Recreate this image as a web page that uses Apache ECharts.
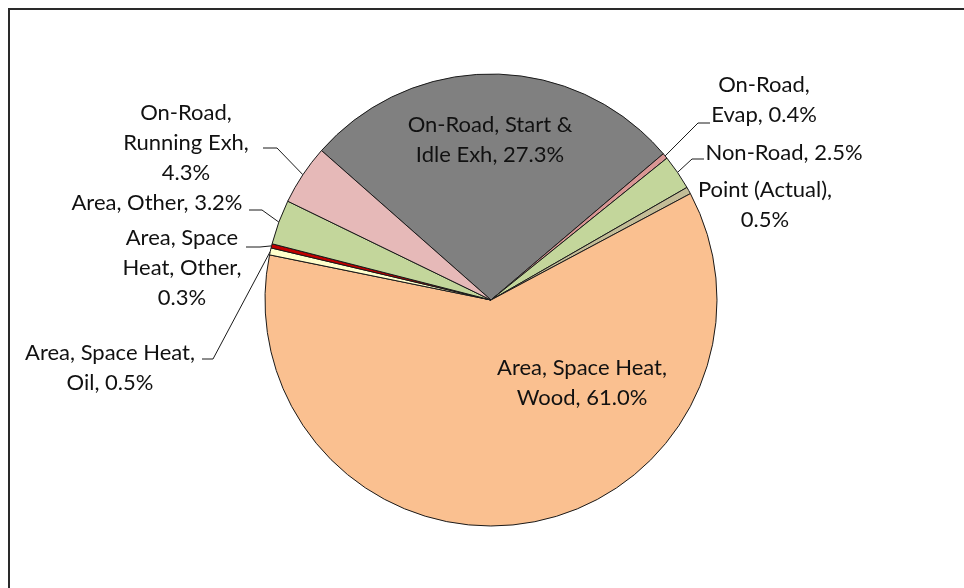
<!DOCTYPE html>
<html>
<head>
<meta charset="utf-8">
<script src="https://cdn.jsdelivr.net/npm/echarts@6/dist/echarts.min.js"></script>
<style>
  html, body { margin: 0; padding: 0; background: #fff; }
  #chart { width: 964px; height: 588px; }
</style>
</head>
<body>
<div id="chart"></div>
<script>
// ---- data ----
const categories = [
  'On-Road, Start & Idle Exh',
  'On-Road, Evap',
  'Non-Road',
  'Point (Actual)',
  'Area, Space Heat, Wood',
  'Area, Space Heat, Oil',
  'Area, Space Heat, Other',
  'Area, Other',
  'On-Road, Running Exh'
];
const shares = [27.3, 0.4, 2.5, 0.5, 61.0, 0.5, 0.3, 3.2, 4.3];
const colors = ['#808080', '#d99694', '#c3d69b', '#c4bd97', '#fac090', '#ffffcc', '#c00000', '#c3d69b', '#e6b9b8'];

// ---- label styling / placement (layout only) ----
const labelStyle = [
  { breaks: [2],    x: 490, y: 140 },
  { breaks: [0],    x: 764, y: 100, line: [[698, 123], [710, 123]] },
  { breaks: [],     x: 784, y: 153, line: [[692, 159], [704, 159]] },
  { breaks: [1],    x: 765, y: 205 },
  { breaks: [2],    x: 582, y: 383 },
  { breaks: [2],    x: 110, y: 368, line: [[213, 359], [202, 359]] },
  { breaks: [1, 3], x: 182, y: 268, line: [[260, 247], [246, 247]] },
  { breaks: [],     x: 157, y: 203, line: [[262, 210], [249, 210]] },
  { breaks: [0, 2], x: 186, y: 143, line: [[277, 148], [263, 148]] }
];

function labelText(i) {
  const words = (categories[i] + ', ' + shares[i].toFixed(1) + '%').split(' ');
  const br = labelStyle[i].breaks;
  let out = '';
  words.forEach((w, k) => {
    out += w;
    if (k < words.length - 1) out += br.indexOf(k) >= 0 ? '\n' : ' ';
  });
  return out;
}

const chart = echarts.init(document.getElementById('chart'), null, { renderer: 'canvas' });

const seriesData = categories.map((name, i) => ({
  name: name,
  value: shares[i],
  itemStyle: { color: colors[i] },
  labelLine: { show: !!labelStyle[i].line }
}));

chart.setOption({
  animation: false,
  backgroundColor: '#ffffff',
  graphic: [{
    type: 'rect',
    shape: { x: 9, y: 9, width: 1000, height: 700 },
    style: { fill: 'none', stroke: '#2a2a2a', lineWidth: 2 },
    silent: true
  }],
  series: [{
    type: 'pie',
    center: [491, 300],
    radius: 226,
    startAngle: 138.6,
    clockwise: true,
    avoidLabelOverlap: false,
    itemStyle: { borderColor: '#1a1a1a', borderWidth: 1 },
    emphasis: { disabled: true },
    label: {
      show: true,
      position: 'outside',
      formatter: p => labelText(p.dataIndex),
      fontFamily: 'Lato',
      fontSize: 22,
      lineHeight: 30,
      color: '#111111',
      align: 'center'
    },
    labelLine: {
      show: true,
      length: 10,
      length2: 10,
      smooth: false,
      lineStyle: { color: '#1a1a1a', width: 1 }
    },
    labelLayout: function (params) {
      const s = labelStyle[params.dataIndex];
      const res = { x: s.x, y: s.y, align: 'center', verticalAlign: 'middle' };
      if (s.line && params.labelLinePoints) {
        res.labelLinePoints = [params.labelLinePoints[0], s.line[0], s.line[1]];
      }
      return res;
    },
    data: seriesData
  }]
});
</script>
</body>
</html>
